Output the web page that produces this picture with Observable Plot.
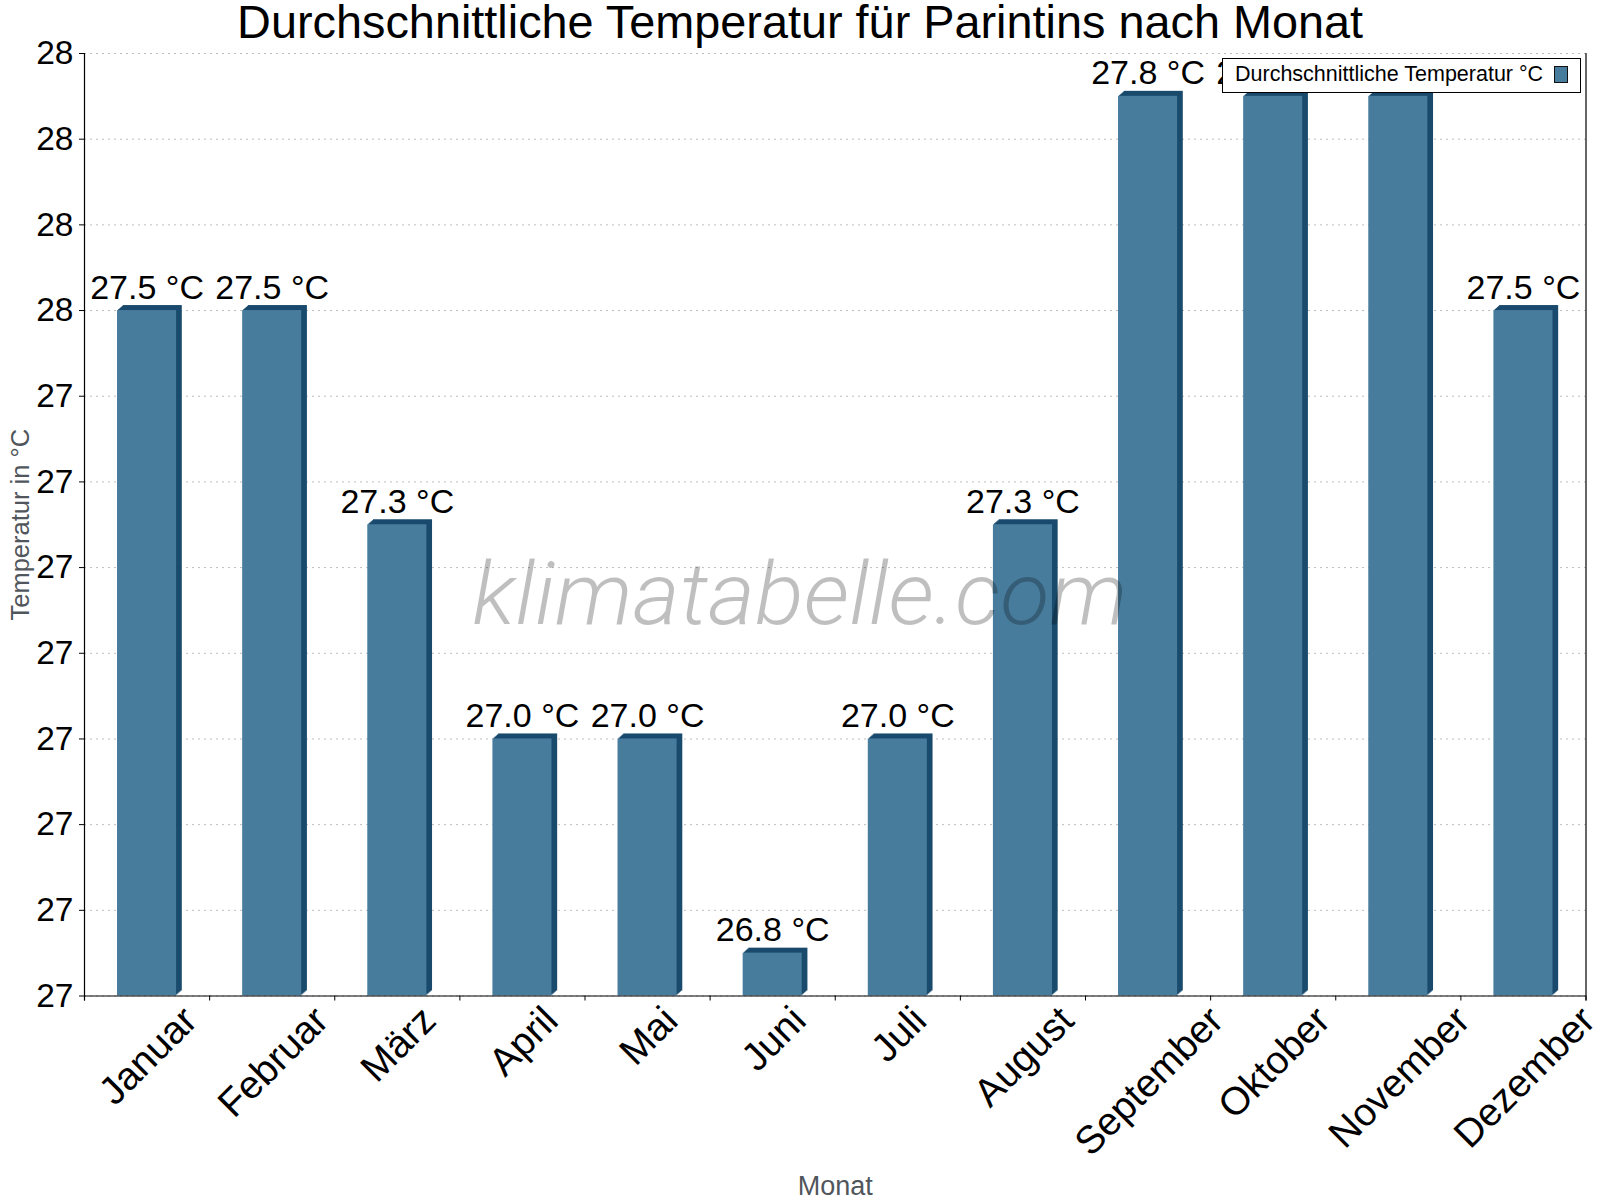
<!DOCTYPE html>
<html>
<head>
<meta charset="utf-8">
<script src="https://cdn.jsdelivr.net/npm/d3@7"></script>
<script src="https://cdn.jsdelivr.net/npm/@observablehq/plot@0.6"></script>
<style>
  html, body { margin: 0; padding: 0; background: #ffffff; }
  body { font-family: "Liberation Sans", Arial, sans-serif; }
  #wrap { position: relative; width: 1600px; height: 1200px; overflow: hidden; background: #fff; }
  #chart { position: absolute; left: 0; top: 0; }
  #title { position: absolute; left: 0; top: 4px; width: 1600px; text-align: center; font-size: 46px; line-height: 36px; white-space: nowrap; color: #000; }
  #title span { display: inline-block; transform-origin: 50% 50%; }
  #watermark { position: absolute; left: 0; top: 551px; width: 1600px; text-align: center; font-family: Roboto, "Open Sans", sans-serif; font-weight: 300; font-style: italic; font-size: 87px; line-height: 1; color: rgba(0,0,0,0.25); white-space: nowrap; pointer-events: none; }
  #watermark span { display: inline-block; transform-origin: 50% 50%; }
  #legend { position: absolute; left: 1222px; top: 58px; width: 359px; height: 35px; box-sizing: border-box; border: 1px solid #000; background: #fff; }
  #legend .lt { position: absolute; left: 12px; top: 5px; font-size: 21.5px; line-height: 1; white-space: nowrap; color: #000; }
  #legend .sw { position: absolute; left: 331px; top: 7px; width: 14px; height: 17px; box-sizing: border-box; border: 1.5px solid #111; }
</style>
</head>
<body>
<div id="wrap">
  <div id="chart"></div>
  <div id="watermark"><span></span></div>
  <div id="title"><span></span></div>
  <div id="legend"><span class="lt"></span><span class="sw"></span></div>
</div>
<script>
// ---- data ----
const months = ["Januar", "Februar", "März", "April", "Mai", "Juni", "Juli", "August", "September", "Oktober", "November", "Dezember"];
const temps = [27.5, 27.5, 27.25, 27.0, 27.0, 26.75, 27.0, 27.25, 27.75, 27.75, 27.75, 27.5];
const yTicks = [26.7, 26.8, 26.9, 27.0, 27.1, 27.2, 27.3, 27.4, 27.5, 27.6, 27.7, 27.8];
const titleText = "Durchschnittliche Temperatur für Parintins nach Monat";
const seriesName = "Durchschnittliche Temperatur °C";
const yLabel = "Temperatur in °C";
const xLabel = "Monat";
const watermarkText = "klimatabelle.com";

// ---- styles ----
const frontColor = "#477c9d";
const darkColor = "#1a4b6d";
const yMin = 26.7, yMax = 27.8;
const pad = 0.264;
const depthSteps = 5;

const data = months.map((m, i) => ({month: m, temp: temps[i], i}));
const fmtLabel = d => d3.format(".1f")(d.temp) + " °C";

const marks = [
  Plot.gridY(yTicks, {stroke: "#bdbdbd", strokeOpacity: 1, strokeDasharray: "2,4"})
];
for (let k = depthSteps; k >= 1; k--) {
  marks.push(Plot.rectY(data, {
    x1: d => d.i + pad, x2: d => d.i + 1 - pad,
    y1: () => yMin, y2: "temp",
    dx: k * 1.14, dy: -k, fill: darkColor
  }));
}
marks.push(
  Plot.rectY(data, {x1: d => d.i + pad, x2: d => d.i + 1 - pad, y1: () => yMin, y2: "temp", fill: frontColor}),
  Plot.ruleY([yMin], {stroke: "#000", strokeWidth: 1.2}),
  Plot.ruleX([0, months.length], {stroke: "#000", strokeWidth: 1.2, insetBottom: -5}),
  Plot.axisX(d3.range(months.length + 1), {tickSize: 5, tickFormat: () => "", label: null, stroke: "#000"}),
  Plot.axisY(yTicks, {tickFormat: d3.format(".0f"), tickSize: 5, tickPadding: 6, fontSize: 33.5, label: null, stroke: "#000", fill: "#000"}),
  Plot.text(data, {x: d => d.i + 0.5, y: "temp", text: fmtLabel, fontSize: 34, lineAnchor: "bottom", dy: -12, fill: "#000"}),
  Plot.text(data, {x: d => d.i + 0.5, y: () => yMin, text: "month", fontSize: 39, rotate: -45, textAnchor: "middle", lineAnchor: "middle", fill: "#000"}),
  Plot.text([yLabel], {frameAnchor: "left", dx: -64, rotate: -90, text: d => d, fontSize: 25.5, fill: "#50565c", lineAnchor: "middle", textAnchor: "middle"}),
  Plot.text([xLabel], {frameAnchor: "bottom", dy: 199, text: d => d, fontSize: 27, fill: "#50565c", lineAnchor: "bottom", textAnchor: "middle"})
);

const svg = Plot.plot({
  width: 1600,
  height: 1200,
  marginTop: 53,
  marginBottom: 204.5,
  marginLeft: 84,
  marginRight: 14.5,
  x: {type: "linear", domain: [0, months.length]},
  y: {type: "linear", domain: [yMin, yMax]},
  style: {fontFamily: "'Liberation Sans', Arial, sans-serif", color: "#000", background: "#fff", overflow: "visible"},
  marks
});
document.getElementById("chart").appendChild(svg);

// position rotated month labels: bbox centred under the band, top at fixed line
const labelTop = 998;
const xs = svg.scale("x");
const sr = svg.getBoundingClientRect();
d3.select(svg).selectAll("text").each(function () {
  const idx = months.indexOf(this.textContent);
  if (idx < 0) return;
  const r = this.getBoundingClientRect();
  const cx = (r.left + r.right) / 2 - sr.left;
  const top = r.top - sr.top;
  const tx = xs.apply(idx + 0.5) + 1 - cx;
  const ty = labelTop - top;
  this.setAttribute("transform", `translate(${tx},${ty}) ` + (this.getAttribute("transform") || ""));
});

// overlays
const tspan = document.querySelector("#title span");
tspan.textContent = titleText;
const tw = tspan.getBoundingClientRect().width;
tspan.style.transform = `scaleX(${1126 / tw})`;

const wspan = document.querySelector("#watermark span");
wspan.textContent = watermarkText;
const ww = wspan.getBoundingClientRect().width;
wspan.style.transform = `scaleX(${655 / ww})`;

document.querySelector("#legend .lt").textContent = seriesName;
document.querySelector("#legend .sw").style.background = frontColor;
</script>
</body>
</html>
